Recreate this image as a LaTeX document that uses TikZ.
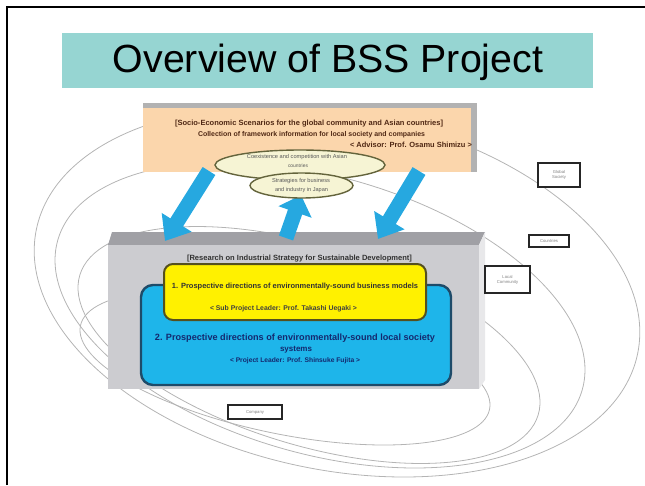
\documentclass[tikz,border=0pt]{standalone}
\usepackage{fontspec}
\usepackage{graphicx}
\setmainfont{Liberation Sans}
\usetikzlibrary{arrows.meta,shapes.geometric}

\definecolor{titleteal}{RGB}{150,213,210}
\definecolor{peach}{RGB}{251,214,172}
\definecolor{creamfill}{RGB}{246,244,212}
\definecolor{olive}{RGB}{100,100,60}
\definecolor{arrowblue}{RGB}{38,168,224}
\definecolor{boxfront}{RGB}{204,204,208}
\definecolor{boxtop}{RGB}{160,160,165}
\definecolor{boxside}{RGB}{232,232,234}
\definecolor{skyblue}{RGB}{30,181,234}
\definecolor{navyedge}{RGB}{30,75,105}
\definecolor{brightyellow}{RGB}{255,241,0}
\definecolor{yellowedge}{RGB}{85,80,30}
\definecolor{ringgray}{RGB}{180,180,180}
\definecolor{browntext}{RGB}{80,40,20}
\definecolor{bluetext}{RGB}{20,40,110}

% set a line of text to a given width
\newcommand{\fitto}[2]{\resizebox{#1}{!}{#2}}

\tikzset{
  ring/.style={draw=ringgray, line width=0.8pt},
  tag/.style={draw=black!85, line width=1.6pt, fill=white, inner sep=1pt,
    font=\fontsize{4.2}{5}\selectfont, text=gray, align=center},
  bubble/.style={ellipse, draw=olive, line width=1.4pt, fill=creamfill, inner sep=0pt},
  bubbletext/.style={font=\fontsize{5}{6}\selectfont, text=black!65, inner sep=0pt},
  smalltext/.style={font=\bfseries, inner sep=0pt},
  bigarrow/.style={arrowblue, line width=15pt,
    -{Triangle[width=34pt,length=22pt]}},
}

\begin{document}
\begin{tikzpicture}[x=1pt, y=-1pt]
  \useasboundingbox (0,0) rectangle (645,485);

  % page frame (left and top edges)
  \draw[line width=1.4pt] (7,485) -- (7,7) -- (645,7);

  % title banner
  \node[fill=titleteal, minimum width=531pt, minimum height=55pt, inner sep=0pt]
    (title) at (327.5,60.5) {};
  \node[font=\fontsize{39.3}{40}\selectfont, inner sep=0pt] (titletext) at (328,62)
    {Overview of BSS Project};

  % nested spheres: company, local community, countries, global society
  \draw[ring, rotate around={-11.55:(285,367.5)}] (285,367.5) ellipse (208.8 and 66.6);
  \draw[ring, rotate around={-17:(309,345)}] (309,345) ellipse (239.6 and 99.9);
  \draw[ring, rotate around={-15.95:(320,315)}] (320,315) ellipse (272.7 and 138.7);
  \draw[ring, rotate around={-11.7:(337,291.5)}] (337,291.5) ellipse (307 and 178.4);

  % scenario box
  \fill[gray!60] (143,103) rectangle (477,172);
  \fill[peach] (143,108) rectangle (471,172);
  \node[smalltext, text=browntext] (scen1) at (309,124)
    {\fitto{268pt}{[Socio-Economic Scenarios for the global community and Asian countries]}};
  \node[smalltext, text=browntext] (scen2) at (311.5,135)
    {\fitto{227pt}{Collection of framework information for local society and companies}};
  \node[smalltext, text=browntext] (scen3) at (411,145)
    {\fitto{122pt}{< Advisor: Prof. Osamu Shimizu >}};

  % research box with bevel
  \fill[boxtop] (108,245) -- (112,232) -- (485,232) -- (479,245) -- cycle;
  \fill[boxside] (479,245) -- (485,232) -- (485,380) -- (479,389) -- cycle;
  \fill[boxfront] (108,245) rectangle (479,389);
  \node[smalltext, text=black!80] (research) at (299.5,259)
    {\fitto{225pt}{\underline{[Research on Industrial Strategy for Sustainable Development]}}};

  % project boxes
  \draw[fill=skyblue, draw=navyedge, line width=2.4pt, rounded corners=12pt]
    (141,285) rectangle (451,385);
  \node[smalltext, text=bluetext] (proj2) at (295,338)
    {\fitto{280pt}{2. Prospective directions of environmentally-sound local society}};
  \node[smalltext, text=bluetext] (proj2b) at (296,349.5)
    {\fitto{32pt}{systems}};
  \node[smalltext, text=bluetext] (lead2) at (295,361)
    {\fitto{130pt}{< Project Leader: Prof. Shinsuke Fujita >}};

  \draw[fill=brightyellow, draw=yellowedge, line width=2pt, rounded corners=9pt]
    (164,264) rectangle (426,320);
  \node[smalltext, text=black!80] (proj1) at (295,287)
    {\fitto{246pt}{1. Prospective directions of environmentally-sound business models}};
  \node[smalltext, text=black!75] (lead1) at (283.5,309)
    {\fitto{147pt}{< Sub Project Leader: Prof. Takashi Uegaki >}};

  % flows between scenarios and research
  \coordinate (la) at (209,171);
  \coordinate (lb) at (165,241);
  \coordinate (ma) at (286,238);
  \coordinate (mb) at (301,195);
  \coordinate (ra) at (419,171);
  \coordinate (rb) at (378,239);
  \draw[bigarrow] (la) -- (lb);
  \draw[bigarrow] (ra) -- (rb);
  \draw[bigarrow, -{Triangle[width=34pt,length=18pt]}] (ma) -- (mb);

  % bubbles
  \node[bubble, minimum width=170pt, minimum height=30pt] (coex) at (300,165) {};
  \node[bubbletext] (coex1) at (297,157.5) {\fitto{100pt}{Coexistence and competition with Asian}};
  \node[bubbletext] (coex2) at (298,166) {\fitto{20pt}{countries}};
  \node[bubble, minimum width=103pt, minimum height=25pt] (strat) at (301.5,185.5) {};
  \node[bubbletext] (strat1) at (301,181) {\fitto{58pt}{Strategies for business}};
  \node[bubbletext] (strat2) at (301.5,190) {\fitto{53pt}{and industry in Japan}};

  % sphere labels
  \node[tag, minimum width=42pt, minimum height=24pt] (global) at (559,175)
    {Global\\Society};
  \node[tag, minimum width=40pt, minimum height=12pt] (countries) at (549,241)
    {Countries};
  \node[tag, minimum width=45pt, minimum height=27pt] (local) at (507.5,279.5)
    {Local\\Community};
  \node[tag, minimum width=54pt, minimum height=14pt] (company) at (255,412)
    {Company};
\end{tikzpicture}
\end{document}
